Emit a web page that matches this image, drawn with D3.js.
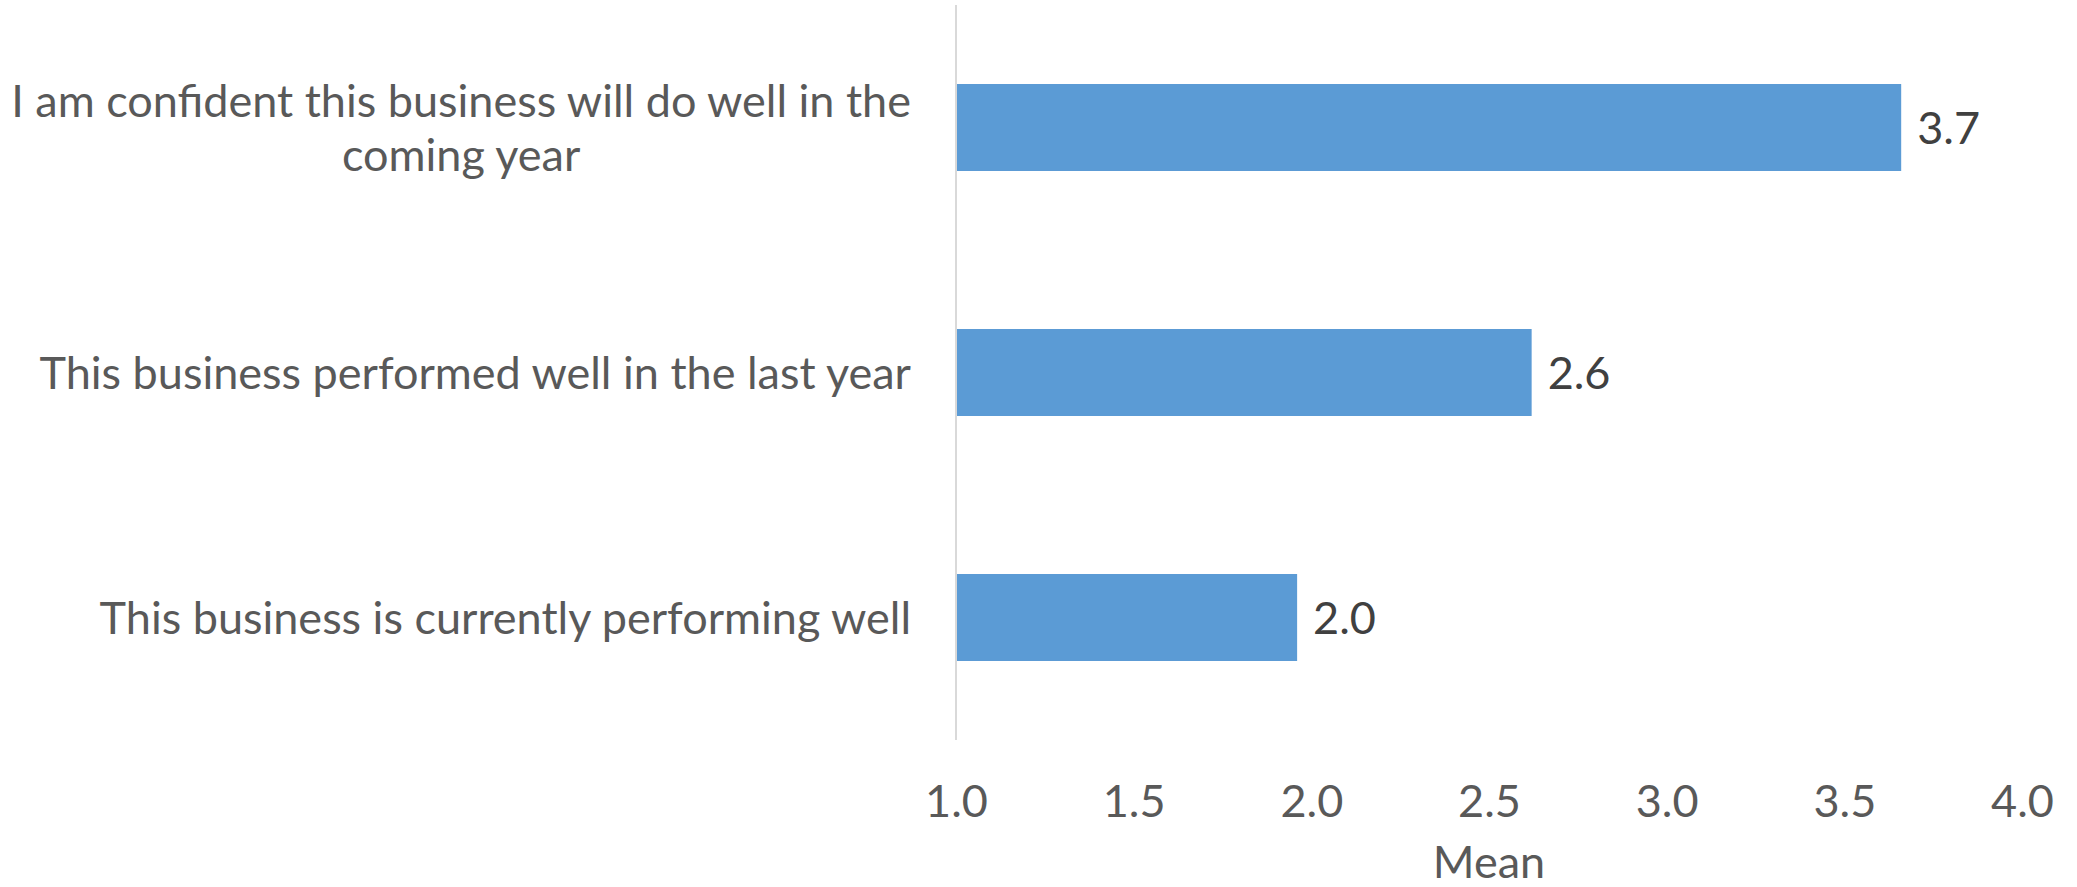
<!DOCTYPE html>
<html>
  <head>
    <title></title>
    <style type="text/css">
        html, body{
            padding: 0px;
            margin: 0px;
            background: #ffffff;
        }
        #vis text{
            font-family: "Lato", "Open Sans", sans-serif;
            font-size: 45px;
        }
    </style>
  </head>
  <body>
    <div id="vis"></div>
    <script src="https://cdnjs.cloudflare.com/ajax/libs/d3/7.8.5/d3.min.js"></script>
    <script type="text/javascript">

        // data
        var categories = [
            "I am confident this business will do well in the coming year",
            "This business performed well in the last year",
            "This business is currently performing well"
        ];
        var means = [3.66, 2.62, 1.96];
        var valueLabels = ["3.7", "2.6", "2.0"];
        var xTicks = [1.0, 1.5, 2.0, 2.5, 3.0, 3.5, 4.0];
        var xTitle = "Mean";

        var width = 2077,
            height = 887;

        var svg = d3.select("#vis").append("svg")
            .attr("width", width)
            .attr("height", height);

        var x = d3.scaleLinear()
            .domain([1, 4])
            .range([956, 2022]);

        var y = d3.scaleBand()
            .domain(categories)
            .range([5, 740])
            .paddingInner(0.645)
            .paddingOuter(0.3225);

        // bars
        svg.selectAll("rect.bar")
            .data(categories)
            .enter().append("rect")
            .attr("class", "bar")
            .attr("x", x(1))
            .attr("y", function(d) { return y(d); })
            .attr("width", function(d, i) { return x(means[i]) - x(1); })
            .attr("height", y.bandwidth())
            .attr("fill", "#5b9bd5");

        // value axis line (vertical, at 1.0)
        svg.append("line")
            .attr("x1", x(1)).attr("x2", x(1))
            .attr("y1", y.range()[0]).attr("y2", y.range()[1])
            .attr("stroke", "#d9d9d9")
            .attr("stroke-width", 2);

        // value labels
        svg.selectAll("text.val")
            .data(categories)
            .enter().append("text")
            .attr("class", "val")
            .attr("x", function(d, i) { return x(means[i]) + 16; })
            .attr("y", function(d) { return y(d) + y.bandwidth() / 2; })
            .attr("dy", "0.36em")
            .attr("fill", "#404040")
            .text(function(d, i) { return valueLabels[i]; });

        // x tick labels (no tick marks)
        var xAxis = d3.axisBottom(x)
            .tickValues(xTicks)
            .tickFormat(d3.format(".1f"))
            .tickSize(0)
            .tickPadding(0);

        var gx = svg.append("g")
            .attr("transform", "translate(0,785)")
            .call(xAxis);
        gx.select(".domain").remove();
        gx.selectAll("text")
            .attr("dy", "0.72em")
            .attr("fill", "#595959")
            .attr("font-family", null)
            .attr("font-size", null);

        svg.append("text")
            .attr("x", (x.range()[0] + x.range()[1]) / 2)
            .attr("y", 878)
            .attr("text-anchor", "middle")
            .attr("fill", "#595959")
            .text(xTitle);

        // category labels, wrapped and centred like the original
        var labelRight = 911,
            wrapWidth = 905,
            lineHeight = 54;

        categories.forEach(function(cat) {
            var t = svg.append("text")
                .attr("fill", "#595959")
                .attr("text-anchor", "middle");
            var words = cat.split(" "),
                lines = [],
                cur = [];
            words.forEach(function(w) {
                cur.push(w);
                t.text(cur.join(" "));
                if (t.node().getComputedTextLength() > wrapWidth && cur.length > 1) {
                    cur.pop();
                    lines.push(cur.join(" "));
                    cur = [w];
                }
            });
            lines.push(cur.join(" "));
            t.text(null);

            var widths = lines.map(function(l) {
                t.text(l);
                return t.node().getComputedTextLength();
            });
            t.text(null);
            var cx = labelRight - d3.max(widths) / 2;
            var mid = y(cat) + y.bandwidth() / 2;
            var first = mid - (lines.length - 1) * lineHeight / 2;

            lines.forEach(function(l, i) {
                t.append("tspan")
                    .attr("x", cx)
                    .attr("y", first + i * lineHeight)
                    .attr("dy", "0.36em")
                    .text(l);
            });
        });

    </script>
  </body>
</html>
